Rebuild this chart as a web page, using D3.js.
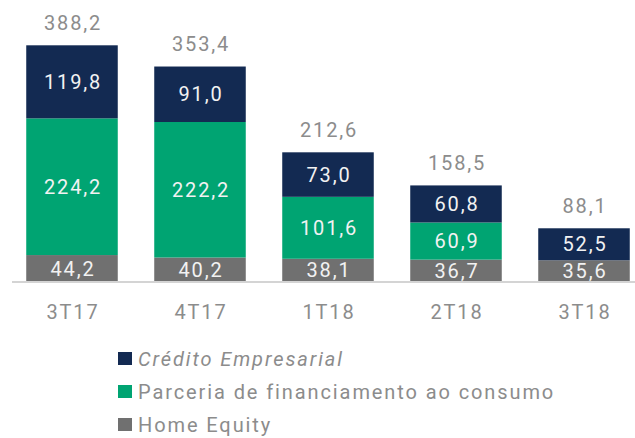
<!DOCTYPE html>
<html>
<head>
<meta charset="utf-8">
<script src="https://cdn.jsdelivr.net/npm/d3@7"></script>
<style>
  body { margin: 0; background: #fff; }
  text { font-family: Roboto, "Noto Sans", sans-serif; }
</style>
</head>
<body>
<div id="chart"></div>
<script>
// data
var quarters = ["3T17", "4T17", "1T18", "2T18", "3T18"];
var homeEquity = [44.2, 40.2, 38.1, 36.7, 35.6];
var parceria = [224.2, 222.2, 101.6, 60.9, 0];
var credito = [119.8, 91.0, 73.0, 60.8, 52.5];
var totals = [388.2, 353.4, 212.6, 158.5, 88.1];
var seriesNames = ["Crédito Empresarial", "Parceria de financiamento ao consumo", "Home Equity"];

var colors = { credito: "#132a52", parceria: "#00a472", home: "#707070" };

var width = 635, height = 438;
var baseY = 282;

var svg = d3.select("#chart")
  .append("svg")
    .attr("width", width)
    .attr("height", height);

// rows for stacking
var rows = quarters.map(function(q, i) {
  return { q: q, home: homeEquity[i], parceria: parceria[i], credito: credito[i], total: totals[i] };
});

var stack = d3.stack().keys(["home", "parceria", "credito"]);
var layers = stack(rows);

var x = d3.scaleBand()
  .domain(quarters)
  .range([8, 648])
  .paddingInner(0.285)
  .paddingOuter(0.1425);

var y = d3.scaleLinear()
  .domain([0, 388.2])
  .range([baseY, 45.3]);

var fmt = function(v) { return d3.format(".1f")(v).replace(".", ","); };

// bars
var g = svg.selectAll("g.layer")
  .data(layers)
  .enter()
  .append("g")
    .attr("class", "layer")
    .attr("fill", function(d) { return colors[d.key]; });

g.selectAll("rect")
  .data(function(d) { return d; })
  .enter()
  .filter(function(d) { return d[1] - d[0] > 0; })
  .append("rect")
    .attr("x", function(d) { return x(d.data.q); })
    .attr("y", function(d) { return y(d[1]); })
    .attr("width", x.bandwidth())
    .attr("height", function(d) { return y(d[0]) - y(d[1]); });

// values inside segments
g.selectAll("text")
  .data(function(d) { return d; })
  .enter()
  .filter(function(d) { return d[1] - d[0] > 0; })
  .append("text")
    .attr("x", function(d) { return x(d.data.q) + x.bandwidth() / 2 + 1; })
    .attr("y", function(d) { return (y(d[0]) + y(d[1])) / 2 + 7; })
    .attr("text-anchor", "middle")
    .attr("fill", "#f2f2f2")
    .style("font-size", "20px")
    .style("letter-spacing", "1.8px")
    .text(function(d) { return fmt(d[1] - d[0]); });

// totals
svg.selectAll("text.total")
  .data(rows)
  .enter()
  .append("text")
    .attr("class", "total")
    .attr("x", function(d) { return x(d.q) + x.bandwidth() / 2 + 1; })
    .attr("y", function(d) { return y(d.total) - 15.5; })
    .attr("text-anchor", "middle")
    .attr("fill", "#8c8c8c")
    .style("font-size", "20px")
    .style("letter-spacing", "1.8px")
    .text(function(d) { return fmt(d.total); });

// axis line
svg.append("line")
  .attr("x1", 12)
  .attr("x2", width)
  .attr("y1", baseY)
  .attr("y2", baseY)
  .attr("stroke", "#d4d4d4")
  .attr("stroke-width", 2);

var xAxis = svg.append("g")
  .attr("transform", "translate(1," + baseY + ")")
  .call(d3.axisBottom(x).tickSize(0).tickPadding(23));
xAxis.select(".domain").remove();
xAxis.selectAll("text")
  .attr("fill", "#8c8c8c")
  .style("font-family", "Roboto, sans-serif")
  .style("font-size", "20px")
  .style("letter-spacing", "1.8px");

// legend
var legend = svg.selectAll("g.legend")
  .data(seriesNames)
  .enter()
  .append("g")
    .attr("class", "legend")
    .attr("transform", function(d, i) { return "translate(118," + (359 + i * 33) + ")"; });

legend.append("rect")
  .attr("x", 0)
  .attr("y", -7)
  .attr("width", 14)
  .attr("height", 13)
  .attr("fill", function(d, i) { return [colors.credito, colors.parceria, colors.home][i]; });

legend.append("text")
  .attr("x", 20)
  .attr("y", 7)
  .attr("fill", "#8c8c8c")
  .style("font-size", "20px")
  .style("letter-spacing", "1.9px")
  .style("font-style", function(d, i) { return i == 0 ? "italic" : "normal"; })
  .text(function(d) { return d; });
</script>
</body>
</html>
